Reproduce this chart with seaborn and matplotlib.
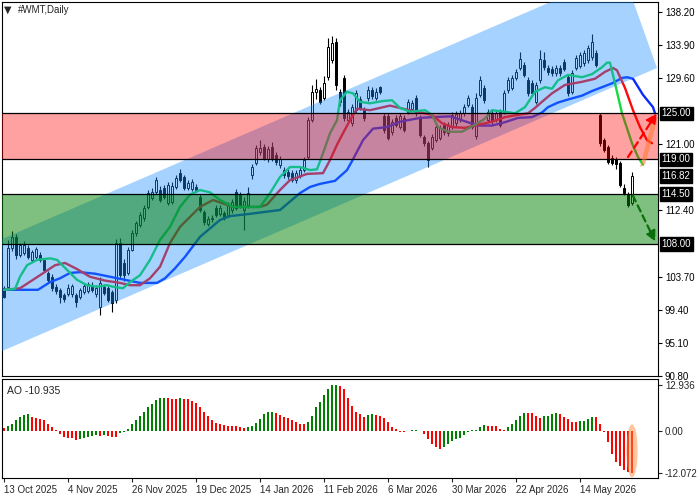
import numpy as np
import seaborn as sns
import matplotlib.pyplot as plt
from matplotlib.patches import Polygon, Ellipse
from matplotlib.transforms import blended_transform_factory

sns.set_style("white")
plt.rcParams['font.family'] = ['Liberation Sans', 'DejaVu Sans']

# daily candles, one per trading day (bar index 0 = 13 Oct 2025)
opens = [102.3, 102.4, 107.5, 108.9, 106.5, 106.8, 107.4, 105.9, 106.3, 106.6,
         105.9, 104.2, 103.7, 102.4, 102.0, 101.3, 101.5, 101.4, 101.3, 101.0,
         101.7, 101.9, 102.6, 101.4, 99.8, 102.4, 102.2, 101.7, 100.7, 108.1,
         105.5, 104.2, 107.2, 109.4, 110.5, 111.4, 112.8, 114.0, 114.8, 115.0,
         115.3, 113.3, 113.5, 115.4, 117.2, 116.7, 115.3, 115.2, 115.4, 114.1,
         112.1, 110.6, 111.2, 112.7, 111.9, 112.0, 111.8, 112.4, 114.8, 114.3,
         112.4, 113.0, 117.0, 118.5, 120.0, 120.6, 119.0, 120.6, 119.6, 118.2,
         117.6, 117.4, 117.2, 116.3, 116.9, 117.6, 119.3, 124.1, 127.8, 128.0,
         127.0, 129.7, 131.9, 134.3, 127.8, 129.6, 124.1, 123.7, 125.4, 126.9,
         125.4, 127.0, 128.0, 127.0, 128.4, 124.6, 124.6, 122.5, 124.4, 123.2,
         124.4, 125.2, 125.5, 127.0, 124.5, 121.9, 121.1, 120.5, 121.5, 121.8,
         123.5, 122.4, 123.2, 123.7, 124.2, 125.0, 126.1, 125.8, 122.0, 127.4,
         128.3, 124.1, 125.0, 124.2, 125.2, 125.2, 128.0, 128.3, 129.6, 130.9,
         131.3, 129.3, 129.0, 126.5, 129.3, 131.9, 130.9, 130.8, 130.2, 130.9,
         131.7, 129.7, 127.8, 130.9, 131.2, 131.5, 131.9, 132.3, 132.9, 124.8,
         121.5, 120.6, 119.2, 119.0, 118.5, 115.3, 114.4, 113.3]
highs = [102.5, 108.5, 109.6, 109.3, 108.1, 108.3, 107.8, 107.2, 107.6, 106.9,
         106.1, 104.5, 104.0, 102.7, 102.2, 101.6, 102.7, 102.8, 101.6, 102.3,
         102.9, 103.0, 103.0, 102.6, 103.7, 102.8, 102.5, 102.0, 108.6, 108.8,
         106.0, 107.6, 109.8, 111.0, 112.2, 113.1, 115.0, 115.3, 116.7, 115.5,
         115.7, 116.0, 116.0, 117.0, 117.7, 117.0, 116.3, 116.4, 115.8, 114.5,
         112.4, 111.6, 111.8, 113.0, 113.0, 112.3, 113.5, 113.8, 115.2, 114.8,
         114.1, 115.4, 118.4, 120.9, 121.5, 121.0, 120.7, 121.3, 120.0, 119.4,
         118.0, 117.8, 117.6, 117.6, 118.0, 119.3, 124.5, 128.7, 129.5, 128.4,
         129.9, 134.8, 135.1, 134.8, 128.2, 130.0, 125.6, 126.2, 128.0, 127.3,
         125.8, 128.5, 128.4, 128.3, 128.6, 125.0, 125.0, 124.2, 124.8, 125.0,
         124.8, 126.9, 126.7, 127.4, 124.8, 122.2, 121.4, 122.3, 123.6, 123.5,
         123.9, 123.8, 125.2, 125.3, 125.4, 126.2, 127.4, 126.2, 127.6, 129.8,
         128.7, 125.6, 125.4, 125.4, 125.6, 128.0, 129.7, 130.0, 130.8, 133.0,
         131.7, 129.7, 129.4, 129.1, 133.2, 133.0, 131.3, 131.2, 131.3, 131.3,
         132.1, 130.1, 130.6, 132.6, 133.0, 133.2, 133.9, 135.3, 133.3, 125.1,
         121.8, 120.9, 119.5, 119.3, 118.8, 115.8, 114.8, 117.3]
lows = [100.9, 102.0, 107.0, 106.0, 106.3, 106.6, 106.0, 105.6, 106.0, 105.6,
        104.3, 103.0, 101.8, 101.4, 100.3, 100.4, 101.2, 101.0, 99.8, 100.8,
        101.5, 101.6, 101.7, 101.0, 98.7, 101.3, 100.4, 99.1, 100.3, 103.5,
        103.2, 103.9, 107.0, 109.0, 110.2, 111.0, 112.5, 113.7, 114.5, 113.4,
        113.8, 113.0, 113.2, 115.1, 116.0, 115.0, 115.0, 114.9, 114.7, 112.1,
        110.5, 110.3, 110.9, 111.5, 111.6, 111.1, 111.5, 112.0, 112.4, 112.7,
        109.8, 112.7, 116.5, 118.2, 119.6, 118.9, 118.7, 118.8, 118.2, 117.9,
        116.6, 116.4, 116.0, 115.9, 116.6, 117.3, 119.0, 123.8, 126.8, 126.2,
        126.7, 129.4, 131.5, 128.0, 126.0, 124.0, 123.8, 123.3, 125.0, 125.4,
        124.0, 126.6, 126.9, 126.7, 127.5, 122.4, 121.5, 122.2, 123.2, 122.9,
        122.5, 124.9, 125.2, 124.7, 121.9, 120.8, 118.0, 120.2, 121.2, 121.5,
        122.2, 122.1, 122.9, 123.4, 123.9, 124.7, 125.8, 122.9, 121.7, 127.1,
        126.4, 123.8, 123.6, 123.8, 123.2, 124.9, 127.7, 128.0, 129.3, 130.6,
        129.7, 127.3, 127.3, 126.2, 129.0, 130.7, 130.0, 129.9, 129.9, 129.9,
        130.5, 127.3, 127.5, 130.6, 130.9, 131.2, 131.6, 132.0, 131.0, 120.8,
        119.9, 118.4, 118.2, 117.8, 115.4, 114.3, 112.8, 113.0]
closes = [101.0, 107.4, 108.9, 106.6, 107.8, 107.9, 106.3, 106.9, 107.3, 105.9,
          104.6, 103.3, 102.2, 101.8, 101.0, 100.8, 102.3, 102.5, 100.4, 102.0,
          102.5, 102.7, 102.0, 102.2, 102.9, 101.6, 100.7, 100.3, 108.1, 103.9,
          103.9, 107.2, 109.4, 110.7, 111.8, 112.7, 114.6, 114.8, 116.3, 113.7,
          114.1, 115.7, 115.5, 116.6, 116.3, 115.3, 115.9, 116.0, 115.0, 112.4,
          110.8, 111.2, 111.4, 111.8, 112.7, 111.5, 113.2, 113.4, 112.7, 113.0,
          113.6, 114.6, 118.0, 120.5, 120.5, 119.2, 120.3, 119.2, 118.6, 119.0,
          117.0, 116.8, 116.3, 117.2, 117.6, 118.9, 124.1, 127.8, 128.2, 126.5,
          129.0, 133.6, 134.2, 128.7, 126.5, 124.4, 125.2, 125.8, 127.6, 125.7,
          124.4, 128.0, 127.2, 127.8, 127.8, 122.8, 121.8, 123.8, 123.5, 124.6,
          122.8, 126.5, 126.3, 125.0, 122.2, 121.1, 118.9, 121.9, 123.2, 123.1,
          122.5, 123.4, 124.8, 124.9, 125.0, 125.8, 127.0, 123.2, 127.0, 129.3,
          126.7, 125.2, 124.0, 125.0, 123.5, 127.6, 129.3, 129.6, 130.4, 132.1,
          130.0, 127.6, 127.6, 128.7, 132.1, 131.0, 130.4, 130.2, 130.9, 130.2,
          130.8, 127.6, 130.2, 132.2, 132.6, 132.8, 133.5, 134.3, 131.3, 121.1,
          120.2, 118.7, 118.5, 118.4, 115.7, 114.6, 113.1, 116.82]

# Alligator lines (bar index, price)
jaw_x = [0, 8.5, 11.5, 14, 16.5, 19, 22.75, 26.5, 30.25, 34, 38.25, 40.25, 42.75,
         45.25, 49, 54, 56.5, 61.5, 69, 74, 76.5, 79, 82.75, 85.75, 87.25, 89.75,
         92.25, 95.75, 99, 104, 107.25, 111.5, 115, 118.5, 122, 125, 128.5, 132,
         134.5, 136, 138.5, 141, 144.5, 147, 149.5, 152, 154.5, 155.75, 157.25,
         159.75, 162.25, 162.75]
jaw_y = [102.0, 102.0, 103.0, 103.5, 104.2, 104.3, 104.1, 103.7, 103.3, 102.9, 102.9,
         103.5, 104.8, 106.3, 108.9, 111.1, 111.6, 111.9, 112.4, 114.6, 115.4, 115.8,
         116.2, 117.6, 119.0, 121.5, 123.0, 123.2, 123.9, 124.4, 124.5, 124.6, 124.0,
         123.4, 123.4, 123.8, 124.4, 124.5, 125.1, 125.8, 126.4, 126.8, 127.3, 127.9,
         128.4, 128.9, 129.6, 129.7, 129.5, 127.4, 125.8, 125.0]
teeth_x = [0, 4, 9, 12.75, 15.25, 18.25, 21.5, 25.25, 29, 31.5, 34, 36.5, 39, 41.5,
           44, 46.5, 49, 52.25, 57.25, 64, 65.75, 69, 71.5, 75.75, 79.75, 81.5, 83.25,
           84.75, 86.5, 88.25, 91.5, 96.5, 99.75, 103.25, 107, 109.5, 112, 115.25,
           118.5, 122, 125.25, 128.5, 131, 132.75, 134.5, 137, 140.25, 144.5, 147.75,
           150.25, 152.25, 153.25, 155.25, 157.25, 159, 160.75, 162]
teeth_y = [102.0, 102.2, 103.9, 105.2, 105.5, 104.7, 103.7, 103.2, 102.9, 102.6, 102.6,
           103.5, 105.0, 108.1, 110.2, 111.5, 112.8, 113.7, 112.8, 112.8, 113.1, 115.0,
           116.3, 117.1, 117.2, 118.9, 120.9, 122.4, 124.1, 125.6, 125.4, 126.0, 125.6,
           125.2, 124.8, 123.7, 123.2, 123.1, 123.5, 123.9, 124.5, 124.8, 125.0, 125.7,
           126.5, 127.6, 128.7, 129.1, 129.5, 130.4, 130.9, 130.6, 128.3, 125.4, 123.2,
           121.5, 121.1]
lips_x = [0, 2.75, 4, 5.75, 8.25, 11.5, 13.25, 15.75, 18.25, 20.75, 23.25, 25.75,
          27.25, 29.75, 31.5, 34, 36.5, 39, 41.5, 44, 46.5, 49, 51.5, 54, 57.25, 61.5,
          64, 66.5, 69, 71.5, 74, 76.5, 78.25, 79.75, 81.5, 83.25, 84, 85.75, 87.25,
          89, 91.5, 94.75, 97, 99, 101.5, 105.25, 107, 108.5, 111, 114.5, 117.75,
          120.25, 122, 125.25, 127.75, 130.25, 132.75, 135.25, 137, 138.5, 141, 144.5,
          147, 149.5, 150.75, 151.5, 152.75, 154.5, 157, 158.5, 159.75]
lips_y = [102.0, 102.1, 103.7, 105.2, 105.9, 106.1, 105.9, 104.6, 103.3, 102.6, 102.4,
          102.6, 102.4, 102.2, 103.0, 103.9, 105.9, 108.5, 110.2, 112.8, 114.4, 115.0,
          114.7, 113.7, 112.8, 112.8, 112.8, 114.6, 116.7, 118.0, 118.0, 117.6, 117.7,
          119.8, 122.4, 124.1, 126.7, 127.8, 127.6, 126.5, 126.3, 126.6, 126.7, 125.7,
          125.2, 125.4, 124.8, 123.2, 122.6, 122.6, 123.5, 124.3, 125.4, 125.2, 125.0,
          125.8, 127.8, 128.4, 128.2, 129.3, 130.0, 129.7, 130.1, 131.0, 131.6, 131.6,
          128.9, 125.0, 121.1, 119.3, 118.3]

# Awesome Oscillator
ao = [0.75, 1.4, 2.0, 2.9, 3.75, 4.5, 4.6, 3.85, 3.55, 3.3,
      2.9, 2.0, 1.1, 0.3, -0.95, -1.9, -2.05, -2.1, -2.7, -2.35,
      -2.05, -1.9, -1.6, -1.1, -1.4, -1.2, -1.6, -1.8, -1.9, -0.75,
      -0.3, 0.45, 2.0, 3.1, 4.0, 5.2, 6.7, 7.6, 8.7, 9.1,
      9.3, 9.2, 8.9, 8.85, 9.3, 8.9, 8.85, 8.5, 7.8, 6.8,
      5.4, 4.2, 3.1, 2.2, 1.9, 1.45, 1.4, 1.38, 1.2, 1.1,
      0.75, 1.0, 1.4, 2.2, 3.3, 4.8, 5.3, 5.35, 5.0, 4.5,
      3.85, 3.55, 2.9, 2.45, 2.0, 1.95, 2.45, 4.2, 6.6, 8.2,
      10.1, 11.8, 12.9, 12.936, 12.5, 11.8, 9.2, 7.0, 5.35, 4.8,
      3.95, 4.5, 4.8, 4.5, 4.2, 3.5, 2.35, 1.1, 0.55, -0.45,
      -0.5, -0.2, 0.2, 0.25, -0.2, -1.0, -2.5, -3.85, -4.7, -5.1,
      -4.7, -3.85, -2.8, -2.5, -2.0, -1.1, -0.3, 0.2, 0.3, 1.1,
      1.7, 1.4, 1.38, 1.35, 0.55, 0.3, 1.1, 2.0, 3.1, 4.2,
      5.1, 5.05, 4.9, 4.2, 3.7, 4.0, 4.2, 4.8, 5.1, 4.8,
      3.95, 3.4, 2.55, 2.5, 2.8, 2.85, 3.4, 3.95, 3.9, 2.0,
      -0.45, -3.3, -6.5, -9.0, -10.0, -11.0, -11.7, -12.072]

date_ticks = [0, 16, 32, 48, 64, 80, 96, 112, 128, 144]
date_labels = ["13 Oct 2025", "4 Nov 2025", "26 Nov 2025", "19 Dec 2025", "14 Jan 2026",
               "11 Feb 2026", "6 Mar 2026", "30 Mar 2026", "22 Apr 2026", "14 May 2026"]
price_ticks = [138.20, 133.90, 129.60, 121.00, 112.40, 103.70, 99.40, 95.10, 90.80]
boxed_levels = [125.00, 119.00, 116.82, 114.50, 108.00]
sell_zone = (119.00, 125.00)
buy_zone = (108.00, 114.50)
zone_lines = [125.00, 119.00, 114.50, 108.00]
# regression channel corners (bar, price)
channel_bars = [-1, 163.25, 154.6, -1]
channel_prices = [93.9, 130.9, 143.55, 108.5]
ao_ticks = [12.936, 0.0, -12.072]
ao_ticklabels = ["12.936", "0.00", "-12.072"]

fig = plt.figure(figsize=(7, 5), dpi=100)
ax = fig.add_axes([2 / 700, 1 - 376 / 500, 656 / 700, 374 / 500])
ax_ao = fig.add_axes([2 / 700, 1 - 478 / 500, 656 / 700, 99 / 500])

n = len(closes)
bars = np.arange(n)
o = np.array(opens)
c = np.array(closes)
up = c >= o

# candles
ax.vlines(bars, lows, highs, color="black", lw=0.8, zorder=2)
ax.bar(bars, np.maximum(np.abs(c - o), 0.12), bottom=np.minimum(o, c), width=0.7,
       color=np.where(up, "white", "black"), edgecolor="black", lw=0.7, zorder=2.5)

# alligator
sns.lineplot(x=jaw_x, y=jaw_y, ax=ax, color="#0a2aff", lw=1.7, zorder=3)
sns.lineplot(x=teeth_x, y=teeth_y, ax=ax, color="#ff0a0a", lw=1.7, zorder=3)
sns.lineplot(x=lips_x, y=lips_y, ax=ax, color="#10dc3c", lw=1.7, zorder=3)

# overlays
ax.add_patch(Polygon(list(zip(channel_bars, channel_prices)), closed=True,
                     fc="#1e90ff", alpha=0.4, lw=0, zorder=4))
ax.axhspan(*sell_zone, color="red", alpha=0.37, lw=0, zorder=5)
ax.axhspan(*buy_zone, color="green", alpha=0.5, lw=0, zorder=5)
for lvl in zone_lines:
    ax.axhline(lvl, color="black", lw=0.9, zorder=6)

# forecast arrows
ax.add_patch(Polygon([(159, 118.0), (161.9, 123.8), (163.5, 124.5), (160.3, 118.4)],
                     closed=True, fc="#ff7a2a", alpha=0.55, lw=0, zorder=7))
ax.annotate("", xy=(163.2, 125.0), xytext=(156.0, 119.3), zorder=8,
            arrowprops=dict(arrowstyle="-|>,head_length=0.6,head_width=0.3",
                            color="red", lw=1.6, ls=(0, (3, 2)), shrinkA=0, shrinkB=0))
ax.annotate("", xy=(162.8, 108.3), xytext=(157.2, 114.3), zorder=8,
            arrowprops=dict(arrowstyle="-|>,head_length=0.6,head_width=0.3",
                            color="#0a6e0a", lw=1.6, ls=(0, (3, 2)), shrinkA=0, shrinkB=0))

ax.set_xlim(-0.5, 163.5)
ax.set_ylim(90.77, 139.5)
ax.set_xticks([])
ax.yaxis.tick_right()
ax.set_yticks(price_ticks)
ax.set_yticklabels([f"{v:.2f}" for v in price_ticks])
ax.tick_params(axis="y", direction="out", length=3, width=0.8, pad=2, labelsize=7,
               right=True, left=False, colors="black")
ax.set_xlabel("")
ax.set_ylabel("")

trans = blended_transform_factory(ax.transAxes, ax.transData)
for v in boxed_levels:
    ax.text(1.005, v, f"{v:.2f}", transform=trans, ha="left", va="center", color="white",
            fontsize=7, clip_on=False, zorder=10,
            bbox=dict(boxstyle="square,pad=0.18", fc="black", ec="black"))

# AO panel
ao_colors = ["red"] + ["green" if ao[i] > ao[i - 1] else "red" for i in range(1, n)]
ax_ao.bar(bars, ao, width=0.72, color=ao_colors, lw=0, zorder=2)
ax_ao.add_patch(Ellipse((157, -5.7), 2.8, 15, fc="#ff8c3c", alpha=0.5, lw=0, zorder=3))
ax_ao.set_xlim(-0.5, 163.5)
ax_ao.set_ylim(-13.4, 14.6)
ax_ao.yaxis.tick_right()
ax_ao.set_yticks(ao_ticks)
ax_ao.set_yticklabels(ao_ticklabels)
ax_ao.set_xticks(date_ticks)
ax_ao.set_xticklabels(date_labels, ha="left")
ax_ao.tick_params(axis="y", direction="out", length=3, width=0.8, pad=2, labelsize=7,
                  right=True, left=False)
ax_ao.tick_params(axis="x", direction="out", length=3, width=0.8, pad=2, labelsize=7,
                  bottom=True)
ax_ao.text(0.008, 0.93, "AO -10.935", transform=ax_ao.transAxes, ha="left", va="top",
           fontsize=7.5, color="#222222")

for a in (ax, ax_ao):
    for s in a.spines.values():
        s.set_color("black")
        s.set_linewidth(0.8)
    a.grid(False)

fig.text(4 / 700, 1 - 10 / 500, "\u25bc", fontsize=7, va="center", ha="left",
         family="DejaVu Sans")
fig.text(18 / 700, 1 - 10 / 500, "#WMT,Daily", fontsize=7, va="center", ha="left")

fig.savefig("out.png", dpi=100)
